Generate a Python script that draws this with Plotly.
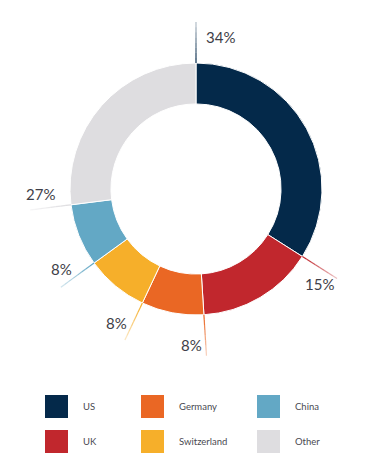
import math
import plotly.graph_objects as go

# ---- data ----
countries = ["US", "UK", "Germany", "Switzerland", "China", "Other"]
shares = [34, 15, 8, 8, 8, 27]
label_texts = ["34%", "15%", "8%", "8%", "8%", "27%"]
colors = ["#04294A", "#C1272D", "#EA6724", "#F6AF2A", "#63A8C5", "#DEDDE0"]

# ---- layout constants (page pixel coordinates) ----
PAGE_W, PAGE_H = 379, 465
OFF = 8  # default body margin of the html page
W, H = PAGE_W - OFF, PAGE_H - OFF
cx, cy = 196, 189
R_OUT = 126
HOLE = 0.675
LINE_R0, LINE_R1 = 126, 167
LABEL_R, LABEL_DA = 156, 5.3
LABEL_NUDGE = {0: (10, 3)}  # keep the first label clear of its leader line
TEXT_COLOR = "#3E3E48"
FONT = "Lato, 'Open Sans', sans-serif"


def px(x):
    return (x - OFF) / W


def py(y):
    return 1 - (y - OFF) / H


def polar(r, ang_deg):
    a = math.radians(ang_deg)
    return cx + r * math.sin(a), cy - r * math.cos(a)


fig = go.Figure()
fig.add_trace(go.Pie(
    labels=countries, values=shares,
    marker=dict(colors=colors, line=dict(color="white", width=1)),
    hole=HOLE, sort=False, direction="clockwise", rotation=0,
    textinfo="none", hoverinfo="label+percent", showlegend=False,
    domain=dict(x=[px(cx - R_OUT), px(cx + R_OUT)],
                y=[py(cy + R_OUT), py(cy - R_OUT)]),
))

shapes = []
annotations = []
total = sum(shares)
cum = 0.0
for i, (name, val, txt, col) in enumerate(zip(countries, shares, label_texts, colors)):
    start = cum / total * 360.0
    cum += val
    # fading leader line at the slice start
    nseg = 8
    for k in range(nseg):
        r0 = LINE_R0 + (LINE_R1 - LINE_R0) * k / nseg
        r1 = LINE_R0 + (LINE_R1 - LINE_R0) * (k + 1) / nseg
        x0, y0 = polar(r0, start)
        x1, y1 = polar(r1, start)
        shapes.append(dict(type="line", xref="paper", yref="paper",
                           x0=px(x0), y0=py(y0), x1=px(x1), y1=py(y1),
                           line=dict(color=col, width=1.2),
                           opacity=1 - 0.8 * k / nseg))
    lx, ly = polar(LABEL_R, start + LABEL_DA)
    dx, dy = LABEL_NUDGE.get(i, (0, 0))
    annotations.append(dict(text=txt, x=px(lx + dx), y=py(ly + dy), xref="paper", yref="paper",
                            xanchor="center", yanchor="middle", showarrow=False,
                            font=dict(family=FONT, size=15, color=TEXT_COLOR)))

# ---- manual legend (3 columns x 2 rows, column-major) ----
col_x = [45, 141, 257]
row_y = [395, 430]
SW = 23
for i, (name, col) in enumerate(zip(countries, colors)):
    c, r = divmod(i, 2)
    x0, y0 = col_x[c], row_y[r]
    shapes.append(dict(type="rect", xref="paper", yref="paper",
                       x0=px(x0), x1=px(x0 + SW), y0=py(y0 + SW), y1=py(y0),
                       fillcolor=col, line=dict(width=0)))
    annotations.append(dict(text=name, x=px(x0 + 36), y=py(y0 + SW / 2),
                            xref="paper", yref="paper", xanchor="left", yanchor="middle",
                            showarrow=False,
                            font=dict(family=FONT, size=9.5, color="#4A4A52")))

fig.update_layout(
    width=W, height=H, autosize=False,
    margin=dict(l=0, r=0, t=0, b=0),
    paper_bgcolor="white", plot_bgcolor="white",
    shapes=shapes, annotations=annotations, showlegend=False,
)

fig.write_html("out.html")
